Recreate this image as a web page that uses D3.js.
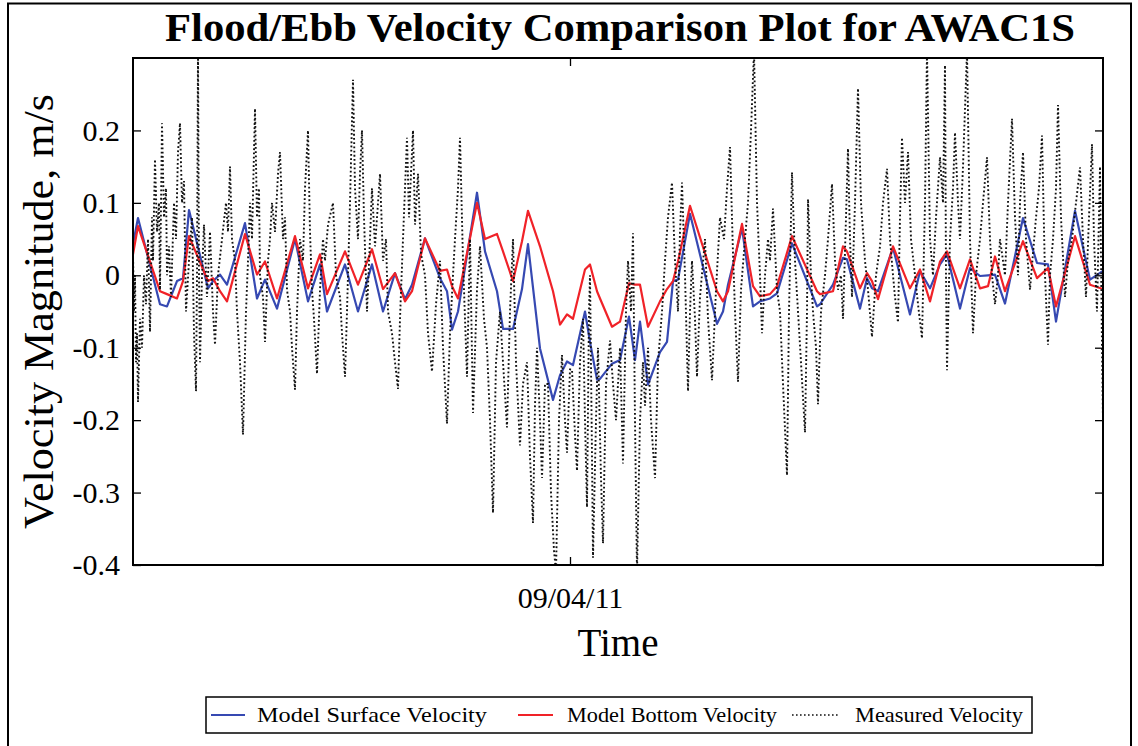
<!DOCTYPE html>
<html>
<head>
<meta charset="utf-8">
<script src="https://cdn.jsdelivr.net/npm/d3@7/dist/d3.min.js"></script>
<style>
  body { margin: 0; background: #fff; }
  svg { display: block; font-family: "Liberation Serif", "Times New Roman", serif; }
</style>
</head>
<body>
<svg id="chart" width="1138" height="746"></svg>
<script>
// hours since start of record (start = 2011-08-31 08:36)
const modelHours = [0, 1, 5.4, 6.8, 8.8, 10, 11.2, 15, 16, 17.4, 18.8, 22.4, 24.8, 26.4, 28.8, 32.4, 35, 37.4, 38.8, 42.4,
  45, 47.8, 50, 52.4, 54.4, 55.8, 58.4, 61.4, 62.8, 63.8, 65, 68.8, 70.4, 72.8, 74, 76, 77.8, 79, 81.4, 84,
  85.4, 86.8, 88, 90.4, 91.4, 92.8, 93.4, 95.8, 97.4, 99.2, 100.4, 101.4, 103, 105.4, 106.8, 108, 109, 111.4, 116.8, 118,
  119, 121.8, 124, 125.4, 127.4, 128.8, 131.8, 136.8, 137.4, 140, 142, 142.8, 145.4, 146.8, 147.8, 149, 152, 155.4, 157.4, 159.4,
  161.4, 162.8, 165.4, 167.4, 169.4, 171, 172.4, 174.4, 178, 180.8, 183, 184.6, 188.4, 191.4, 194];

const surfaceVel = [0.043, 0.079, -0.040, -0.043, -0.008, -0.004, 0.090, -0.018, -0.008, 0.001, -0.013, 0.072, -0.032, -0.006, -0.046, 0.050, -0.036, 0.015, -0.050, 0.015,
  -0.050, 0.015, -0.050, 0.003, -0.033, -0.013, 0.051, -0.004, -0.022, -0.075, -0.050, 0.114, 0.033, -0.022, -0.074, -0.074, -0.019, 0.043, -0.101, -0.172,
  -0.138, -0.119, -0.124, -0.050, -0.092, -0.144, -0.143, -0.122, -0.117, -0.057, -0.117, -0.064, -0.151, -0.106, -0.092, -0.008, -0.006, 0.085, -0.067, -0.050,
  -0.013, 0.065, -0.043, -0.036, -0.032, -0.025, 0.044, -0.043, -0.040, -0.013, 0.024, 0.022, -0.046, -0.004, -0.018, -0.022, 0.038, -0.054, 0.006, -0.018,
  0.015, 0.029, -0.046, 0.010, -0.001, 0.000, 0.001, -0.039, 0.079, 0.017, 0.015, -0.064, 0.089, -0.006, 0.006];

const bottomVel = [0.029, 0.068, -0.022, -0.026, -0.032, -0.008, 0.054, -0.008, -0.004, -0.022, -0.036, 0.057, 0.001, 0.019, -0.032, 0.054, -0.018, 0.029, -0.026, 0.033,
  -0.013, 0.036, -0.019, 0.003, -0.036, -0.022, 0.051, 0.006, 0.008, -0.015, -0.032, 0.100, 0.050, 0.057, 0.033, -0.008, 0.047, 0.089, 0.040, -0.022,
  -0.068, -0.054, -0.060, 0.008, 0.015, -0.022, -0.032, -0.071, -0.064, -0.011, -0.013, -0.013, -0.071, -0.036, -0.019, -0.008, 0.019, 0.096, -0.022, -0.036,
  -0.022, 0.071, -0.015, -0.029, -0.026, -0.015, 0.054, -0.022, -0.026, -0.022, 0.040, 0.033, -0.018, 0.003, -0.008, -0.033, 0.040, -0.018, 0.008, -0.036,
  0.019, 0.033, -0.018, 0.022, -0.018, -0.015, 0.026, -0.022, 0.047, -0.004, 0.010, -0.043, 0.054, -0.013, -0.019];

// measured record: [hours since start, velocity]
const measuredSamples = [
  [0, 0.03], [0.2, -0.05], [0.4, 0.0], [0.6, -0.12], [0.8, -0.08], [1, -0.175], [1.4, -0.06], [1.8, -0.10], [2.2, 0.0], [2.6, -0.04],
  [3, 0.05], [3.4, -0.078], [3.8, 0.08], [4, 0.02], [4.4, 0.16], [4.8, 0.06], [5.2, 0.10], [5.4, -0.02], [5.8, 0.21], [6.2, 0.08],
  [6.6, 0.12], [6.8, 0.0], [7.2, 0.04], [7.6, -0.03], [8.2, 0.10], [8.6, 0.05], [9, 0.17], [9.4, 0.21], [9.8, 0.10], [10.2, 0.13],
  [10.6, -0.05], [11.2, 0.02], [11.8, 0.08], [12.2, -0.08], [12.6, -0.16], [12.8, 0.0], [13, 0.31], [13.2, 0.0], [13.4, -0.12], [13.8, 0.0],
  [14.2, 0.07], [14.8, -0.03], [15.4, 0.06], [16, -0.05], [16.4, -0.096], [17, 0.0], [17.8, 0.05], [18.6, 0.10], [19, 0.06], [19.4, 0.15],
  [19.8, 0.05], [20.4, 0.02], [20.8, -0.05], [21.4, -0.12], [22, -0.22], [22.6, -0.05], [23, 0.02], [23.4, 0.10], [23.8, 0.05], [24.4, 0.23],
  [24.8, 0.08], [25.2, 0.12], [25.4, 0.0], [26, -0.03], [26.4, -0.092], [27, 0.02], [27.4, 0.05], [27.8, 0.10], [28.4, 0.06], [29, 0.14],
  [29.4, 0.17], [30, 0.05], [30.4, 0.08], [30.8, -0.02], [31.4, -0.05], [31.8, -0.10], [32.4, -0.158], [32.8, -0.05], [33.4, 0.05], [34, 0.02],
  [34.4, 0.12], [35, 0.20], [35.4, 0.06], [35.8, -0.02], [36.2, -0.06], [36.8, -0.136], [37.4, -0.02], [38, 0.05], [38.4, 0.02], [39, 0.07],
  [40, 0.10], [40.6, 0.0], [41.4, -0.03], [41.8, -0.08], [42.4, -0.14], [42.8, -0.05], [43.4, 0.10], [44, 0.27], [44.4, 0.12], [45, 0.05],
  [45.4, 0.14], [45.8, 0.20], [46.2, 0.08], [46.8, -0.05], [47.4, 0.05], [47.8, 0.12], [48.4, 0.04], [49, 0.10], [49.4, 0.14], [50, 0.02],
  [50.6, 0.05], [51, -0.05], [51.8, -0.08], [52.4, -0.12], [53, -0.157], [53.4, -0.06], [54, 0.05], [54.4, 0.12], [54.8, 0.19], [55.2, 0.08],
  [55.6, 0.14], [56, 0.20], [56.4, 0.07], [57, 0.14], [57.6, 0.03], [58.4, 0.0], [59, -0.08], [59.8, -0.133], [60.6, -0.04], [61.4, 0.02],
  [62, -0.10], [62.8, -0.205], [63.4, -0.08], [64, 0.0], [64.4, 0.05], [65, 0.12], [65.4, 0.19], [66, 0.02], [66.8, -0.14], [67.4, 0.05],
  [68, -0.19], [68.8, -0.02], [69.4, 0.04], [70.2, -0.06], [70.8, -0.10], [71.4, -0.20], [72, -0.328], [72.6, -0.12], [73.4, -0.05], [74, -0.12],
  [74.8, -0.21], [75.4, -0.05], [76, 0.05], [76.6, -0.12], [77.4, -0.235], [78, -0.15], [78.8, -0.12], [79.4, -0.25], [80, -0.342], [80.4, -0.18],
  [80.8, -0.10], [81.4, -0.20], [81.8, -0.28], [82.4, -0.15], [83, -0.15], [83.6, -0.30], [84.2, -0.38], [84.6, -0.41], [85.2, -0.20], [85.8, -0.11],
  [86.4, -0.20], [86.8, -0.245], [87.4, -0.13], [87.8, -0.13], [88.4, -0.22], [88.8, -0.27], [89.4, -0.12], [90, -0.06], [90.4, -0.20], [90.8, -0.32],
  [91.2, -0.05], [91.4, 0.0], [91.8, -0.25], [92, -0.39], [92.6, -0.20], [93, -0.10], [93.6, -0.28], [94, -0.37], [94.6, -0.15], [95.4, -0.09],
  [96, -0.15], [96.6, -0.20], [97.4, -0.10], [98, -0.26], [98.6, -0.05], [99, 0.02], [99.6, -0.05], [100, 0.058], [100.4, -0.20], [100.8, -0.41],
  [101.4, -0.20], [102, -0.12], [102.4, -0.18], [103, -0.10], [103.6, -0.20], [104.4, -0.28], [105, -0.12], [105.8, -0.05], [106.4, 0.02], [107, 0.08],
  [107.8, 0.128], [108.4, 0.02], [109, -0.05], [109.4, 0.06], [109.8, 0.128], [110.4, 0.0], [111, -0.16], [111.4, -0.05], [111.8, 0.02], [112.4, -0.06],
  [112.8, -0.14], [113.4, -0.03], [114.4, 0.05], [115, -0.06], [115.8, -0.145], [116.6, -0.02], [117.4, 0.08], [118.2, 0.05], [118.8, 0.12], [119.4, 0.177],
  [120, 0.03], [120.4, -0.05], [121, -0.147], [121.6, -0.02], [122.4, 0.05], [123, 0.10], [123.6, 0.20], [124.2, 0.31], [124.8, 0.10], [125.4, 0.0],
  [125.8, -0.08], [126.4, 0.0], [127, 0.05], [127.4, 0.02], [128, 0.092], [128.8, -0.02], [129.4, -0.05], [130, -0.15], [130.8, -0.276], [131.2, -0.05],
  [131.8, 0.142], [132.4, 0.02], [133, -0.05], [133.6, -0.12], [134.4, -0.217], [134.8, -0.05], [135, 0.105], [135.6, 0.0], [136, -0.05], [136.6, -0.10],
  [137, -0.178], [137.6, -0.05], [138.4, 0.0], [139, 0.05], [139.8, 0.126], [140.4, 0.02], [141, -0.02], [141.6, 0.0], [142, -0.06], [142.6, 0.08],
  [143, 0.175], [143.4, 0.05], [143.8, -0.03], [144.4, 0.10], [145, 0.258], [145.6, 0.10], [146.4, 0.02], [147, -0.02], [147.8, -0.085], [148.6, 0.0],
  [149.4, 0.04], [150, 0.10], [150.8, 0.147], [151.4, 0.05], [152, 0.0], [152.4, -0.03], [153, -0.065], [153.4, 0.08], [153.8, 0.19], [154.4, 0.10],
  [155, 0.17], [155.6, 0.05], [156.4, 0.0], [157, -0.04], [157.8, -0.087], [158.4, 0.10], [158.8, 0.31], [159.4, 0.05], [160, 0.0], [160.6, 0.08],
  [161.4, 0.163], [162, 0.10], [162.4, 0.29], [162.6, 0.0], [162.8, -0.131], [163.4, 0.05], [164, 0.12], [164.4, 0.197], [165, 0.10], [165.4, 0.05],
  [166, 0.15], [166.8, 0.31], [167.4, 0.05], [168, -0.08], [168.6, 0.0], [169.4, 0.05], [170, 0.10], [170.8, 0.163], [171.4, 0.05], [171.8, 0.0],
  [172.4, -0.04], [173, 0.0], [173.4, 0.05], [174, 0.02], [174.4, 0.0], [175, 0.10], [175.8, 0.216], [176.4, 0.08], [177, 0.0], [177.4, 0.10],
  [178, 0.17], [178.6, 0.05], [179.4, -0.02], [180, 0.03], [180.6, 0.08], [181.2, 0.12], [181.8, 0.193], [182.4, 0.0], [183, -0.096], [183.4, 0.0],
  [184, 0.05], [184.6, 0.12], [185, 0.235], [185.6, 0.08], [186.4, -0.03], [187, 0.02], [187.8, 0.05], [188.6, 0.10], [189.4, 0.149], [190, 0.05],
  [190.6, -0.03], [191.2, 0.08], [191.8, 0.181], [192.2, 0.05], [192.8, -0.05], [193.4, 0.15], [193.8, -0.10], [194, -0.2]
];

const yTicks = [-0.4, -0.3, -0.2, -0.1, 0, 0.1, 0.2];
const xTickDates = [new Date(2011, 8, 4)];
const seriesNames = ['Model Surface Velocity', 'Model Bottom Velocity', 'Measured Velocity'];

const startTime = new Date(2011, 7, 31, 8, 36);
const spanHours = 194;
const toDate = (h) => new Date(startTime.getTime() + h * 3600 * 1000);

const margin = { top: 58, right: 35, bottom: 181, left: 133 },
  width = 1138 - margin.left - margin.right,
  height = 746 - margin.top - margin.bottom;

const svg = d3.select('#chart');

// figure frame
svg.append('rect')
  .attr('x', 8).attr('y', 3.5).attr('width', 1123).attr('height', 760)
  .attr('fill', 'none').attr('stroke', '#000').attr('stroke-width', 2);

const g = svg.append('g').attr('transform', 'translate(' + margin.left + ',' + margin.top + ')');

const x = d3.scaleTime().domain([startTime, toDate(spanHours)]).range([0, width]);
const y = d3.scaleLinear().domain([-0.4, 0.3]).range([height, 0]);

g.append('clipPath').attr('id', 'plot-clip')
  .append('rect').attr('width', width).attr('height', height);

const plot = g.append('g').attr('clip-path', 'url(#plot-clip)');

const surfaceData = modelHours.map((h, i) => ({ t: toDate(h), v: surfaceVel[i] }));
const bottomData = modelHours.map((h, i) => ({ t: toDate(h), v: bottomVel[i] }));
const measData = measuredSamples.map((d) => ({ t: toDate(d[0]), v: d[1] }));

const line = d3.line().x((d) => x(d.t)).y((d) => y(d.v));

plot.append('path').datum(surfaceData)
  .attr('fill', 'none').attr('stroke', '#3649b2').attr('stroke-width', 2.2)
  .attr('stroke-linejoin', 'round').attr('d', line);

plot.append('path').datum(bottomData)
  .attr('fill', 'none').attr('stroke', '#f02228').attr('stroke-width', 2.2)
  .attr('stroke-linejoin', 'round').attr('d', line);

plot.append('path').datum(measData)
  .attr('fill', 'none').attr('stroke', '#111').attr('stroke-width', 1.9)
  .attr('stroke-dasharray', '1.8,2.4').attr('d', line);

// axes, ticks pointing inward on all four sides
const fmtY = (d) => (d === 0 ? '0' : String(d));

const yAxis = g.append('g')
  .call(d3.axisLeft(y).tickValues(yTicks).tickSize(-8).tickSizeOuter(0).tickPadding(13).tickFormat(fmtY));
g.append('g').attr('transform', 'translate(' + width + ',0)')
  .call(d3.axisRight(y).tickValues(yTicks).tickSize(-8).tickSizeOuter(0).tickFormat(''));

const xAxis = g.append('g').attr('transform', 'translate(0,' + height + ')')
  .call(d3.axisBottom(x).tickValues(xTickDates).tickSize(-8).tickSizeOuter(0).tickPadding(22)
    .tickFormat(d3.timeFormat('%m/%d/%y')));
g.append('g')
  .call(d3.axisTop(x).tickValues(xTickDates).tickSize(-8).tickSizeOuter(0).tickFormat(''));

g.selectAll('.domain').remove();
g.selectAll('.tick line').attr('stroke', '#000').attr('stroke-width', 1.3);
yAxis.selectAll('text').attr('font-size', 30).attr('font-family', 'Liberation Serif').attr('fill', '#000');
xAxis.selectAll('text').attr('font-size', 30).attr('font-family', 'Liberation Serif').attr('fill', '#000');

g.append('rect').attr('width', width).attr('height', height)
  .attr('fill', 'none').attr('stroke', '#000').attr('stroke-width', 2);

// titles
svg.append('text')
  .attr('x', 620).attr('y', 41).attr('text-anchor', 'middle')
  .attr('font-size', 41).attr('font-weight', 'bold')
  .attr('textLength', 910).attr('lengthAdjust', 'spacingAndGlyphs')
  .text('Flood/Ebb Velocity Comparison Plot for AWAC1S');

svg.append('text')
  .attr('x', margin.left + width / 2).attr('y', 656).attr('text-anchor', 'middle')
  .attr('font-size', 39)
  .text('Time');

svg.append('text')
  .attr('transform', 'translate(53,' + (margin.top + height / 2) + ') rotate(-90)')
  .attr('text-anchor', 'middle')
  .attr('font-size', 42)
  .attr('textLength', 435).attr('lengthAdjust', 'spacingAndGlyphs')
  .text('Velocity Magnitude, m/s');

// legend
const legend = svg.append('g');
legend.append('rect')
  .attr('x', 206).attr('y', 697).attr('width', 826).attr('height', 36)
  .attr('fill', '#fff').attr('stroke', '#000').attr('stroke-width', 1.5);

const legendItems = [
  { name: seriesNames[0], color: '#3649b2', dash: null, x0: 211, x1: 245, tx: 257, tw: 230 },
  { name: seriesNames[1], color: '#f02228', dash: null, x0: 518, x1: 553, tx: 567, tw: 210 },
  { name: seriesNames[2], color: '#111', dash: '1.6,2.4', x0: 792, x1: 838, tx: 855, tw: 168 },
];

legendItems.forEach((it) => {
  legend.append('line')
    .attr('x1', it.x0).attr('x2', it.x1).attr('y1', 715).attr('y2', 715)
    .attr('stroke', it.color).attr('stroke-width', it.dash ? 1.3 : 2)
    .attr('stroke-dasharray', it.dash);
  legend.append('text')
    .attr('x', it.tx).attr('y', 722)
    .attr('font-size', 22)
    .attr('textLength', it.tw).attr('lengthAdjust', 'spacingAndGlyphs')
    .text(it.name);
});
</script>
</body>
</html>
